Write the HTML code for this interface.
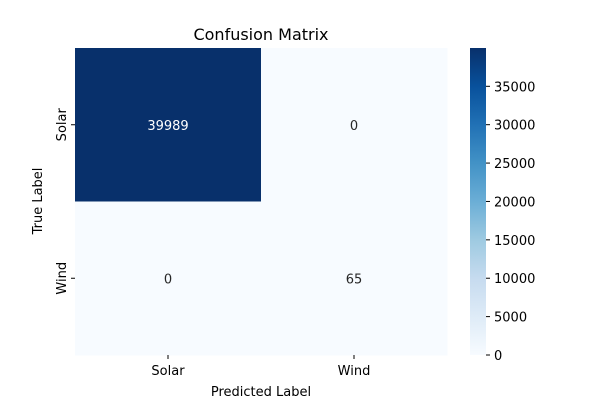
<!DOCTYPE html>
<html><head><meta charset="utf-8"><style>
html,body{margin:0;padding:0;background:#fff;}
svg{display:block;font-family:"DejaVu Sans","Liberation Sans",sans-serif;}
</style></head><body>
<svg id="chart" width="600" height="400" viewBox="0 0 600 400">
<defs>
<linearGradient id="blues" x1="0" y1="1" x2="0" y2="0">
<stop offset="0" stop-color="#f7fbff"/><stop offset="0.125" stop-color="#deebf7"/>
<stop offset="0.25" stop-color="#c6dbef"/><stop offset="0.375" stop-color="#9ecae1"/>
<stop offset="0.5" stop-color="#6baed6"/><stop offset="0.625" stop-color="#4292c6"/>
<stop offset="0.75" stop-color="#2171b5"/><stop offset="0.875" stop-color="#08519c"/>
<stop offset="1" stop-color="#08306b"/>
</linearGradient>
</defs>
<text x="261" y="40" text-anchor="middle" font-size="16" fill="#000">Confusion Matrix</text>
<g id="cells"></g>
<text x="261" y="396" text-anchor="middle" font-size="13">Predicted Label</text>
<text transform="translate(42,201) rotate(-90)" text-anchor="middle" font-size="13">True Label</text>
<rect x="470" y="48" width="16" height="307" fill="url(#blues)"/>
<g id="cbticks"></g>
</svg>
<script>
const categories = ["Solar", "Wind"];
const matrix = [[39989, 0], [0, 65]];
const cbTicks = [0, 5000, 10000, 15000, 20000, 25000, 30000, 35000];
const NS = "http://www.w3.org/2000/svg";
const L = 75, R = 447, T = 48, B = 355;
const vmax = Math.max(...matrix.flat());
const stops = ["#f7fbff","#deebf7","#c6dbef","#9ecae1","#6baed6","#4292c6","#2171b5","#08519c","#08306b"];
function hex(c){return [1,3,5].map(i=>parseInt(c.substr(i,2),16));}
function color(v){
  let t = Math.max(0, Math.min(1, v / vmax)) * (stops.length - 1);
  let i = Math.min(Math.floor(t), stops.length - 2), f = t - i;
  let a = hex(stops[i]), b = hex(stops[i+1]);
  return "rgb(" + a.map((x,k)=>Math.round(x + (b[k]-x)*f)).join(",") + ")";
}
const n = categories.length, cw = (R - L) / n, ch = (B - T) / n;
const cells = document.getElementById("cells");
function mk(tag, attrs, parent){const e=document.createElementNS(NS,tag);for(const k in attrs)e.setAttribute(k,attrs[k]);parent.appendChild(e);return e;}
for (let r = 0; r < n; r++) for (let c = 0; c < n; c++) {
  const v = matrix[r][c];
  const rect = mk("rect", {x: L + c*cw, y: T + r*ch, width: cw + 0.5, height: ch + 0.5, fill: color(v)}, cells);
  
  
  const t = mk("text", {x: L + (c+0.5)*cw, y: T + (r+0.5)*ch + 5, "text-anchor": "middle", "font-size": "13", fill: v / vmax > 0.5 ? "#fff" : "#262626"}, cells);
  t.textContent = v;
  
  
}
for (let i = 0; i < n; i++) {
  const x = L + (i+0.5)*cw, y = T + (i+0.5)*ch;
  mk("line", {x1: x, x2: x, y1: B, y2: B+4, stroke: "#000"}, cells);
  const xl = mk("text", {x: x, y: B + 20, "text-anchor": "middle", "font-size": "13"}, cells);
  xl.textContent = categories[i];
  
  
  mk("line", {x1: L-4, x2: L, y1: y, y2: y, stroke: "#000"}, cells);
  const yl = mk("text", {transform: "translate(" + (L-9) + "," + y + ") rotate(-90)", "text-anchor": "middle", "font-size": "13"}, cells);
  yl.textContent = categories[i];
  
  
}
const cbg = document.getElementById("cbticks");
for (const v of cbTicks) {
  const y = B - (v / vmax) * (B - T);
  mk("line", {x1: 486, x2: 490, y1: y, y2: y, stroke: "#000"}, cbg);
  const t = mk("text", {x: 494, y: y + 5, "font-size": "13"}, cbg);
  t.textContent = v;
  
  
}
</script>
</body></html>
